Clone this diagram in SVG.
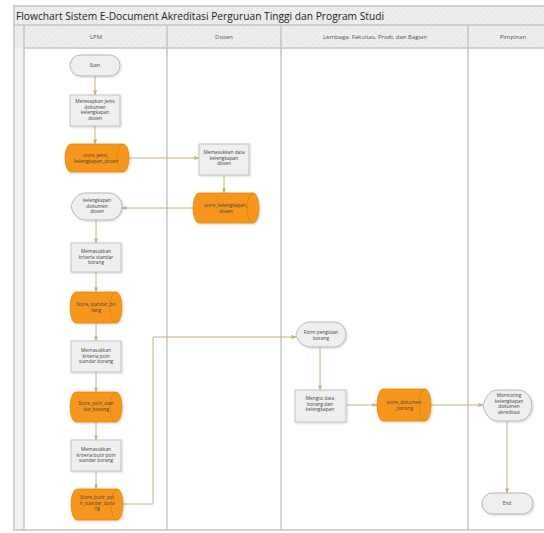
<svg xmlns="http://www.w3.org/2000/svg" width="544" height="533" viewBox="0 0 544 533">
<defs>
<pattern id="hatch" width="4" height="4" patternUnits="userSpaceOnUse" patternTransform="rotate(45)">
<rect width="4" height="4" fill="#eeeeee"/>
<line x1="0" y1="0" x2="0" y2="4" stroke="#e4e4e4" stroke-width="1.5"/>
</pattern>
<marker id="arr" viewBox="0 0 6 6" refX="5.5" refY="3" markerWidth="5" markerHeight="5" orient="auto">
<path d="M0,0.5 L6,3 L0,5.5 Z" fill="#c9b27a"/>
</marker>
<filter id="sh" x="-20%" y="-20%" width="150%" height="150%">
<feDropShadow dx="1" dy="1" stdDeviation="0.8" flood-color="#000" flood-opacity="0.18"/>
</filter>
</defs>
<style>
.lane{fill:none;stroke:#c4c4c4;stroke-width:1.5}
.title{font-family:"Open Sans","DejaVu Sans",sans-serif;font-size:10.5px;fill:#222}
.hdr{font-family:"Open Sans","DejaVu Sans",sans-serif;font-size:6px;fill:#555;text-anchor:middle}
.t{font-family:"Open Sans","DejaVu Sans",sans-serif;font-size:4.8px;fill:#444;text-anchor:middle}
.proc{fill:#efefef;stroke:#b8b8b8;stroke-width:0.8;filter:url(#sh)}
.term{fill:#efefef;stroke:#a8a8a8;stroke-width:0.8;filter:url(#sh)}
.disp{fill:#efefef;stroke:#a8a8a8;stroke-width:0.8;filter:url(#sh)}
.store{fill:#f7961f;stroke:#e3890f;stroke-width:0.8;filter:url(#sh)}
.inner{fill:none;stroke:#d27d0c;stroke-width:0.6}
.c{fill:none;stroke:#c9b27a;stroke-width:1;marker-end:url(#arr)}
</style>
<rect width="544" height="533" fill="#ffffff"/>
<!-- frame -->
<g id="pool">
<rect x="14" y="6" width="540" height="19" fill="url(#hatch)"/>
<rect x="14" y="25" width="540" height="23" fill="url(#hatch)"/>
<rect x="14" y="48" width="10" height="482" fill="#f3f3f3"/>
<rect class="lane" x="14" y="6" width="540" height="524"/>
<line class="lane" x1="14" y1="25" x2="544" y2="25"/>
<line class="lane" x1="24" y1="48" x2="544" y2="48"/>
<line class="lane" x1="24" y1="25" x2="24" y2="530"/>
<line class="lane" x1="167" y1="25" x2="167" y2="530"/>
<line class="lane" x1="281" y1="25" x2="281" y2="530"/>
<line class="lane" x1="468" y1="25" x2="468" y2="530"/>
<text class="title" x="16" y="20" textLength="368" lengthAdjust="spacingAndGlyphs">Flowchart Sistem E-Document Akreditasi Perguruan Tinggi dan Program Studi</text>
<text class="hdr" x="96" y="39">LPM</text>
<text class="hdr" x="224" y="39">Dosen</text>
<text class="hdr" x="375" y="39">Lembaga, Fakultas, Prodi, dan Bagian</text>
<text class="hdr" x="513" y="39">Pimpinan</text>
</g>
<!-- connectors -->
<g id="connectors">
<path class="c" d="M95,76 V95"/>
<path class="c" d="M95,126 V144"/>
<path class="c" d="M129,158 H199"/>
<path class="c" d="M224,175 V193"/>
<path class="c" d="M193,208 H122"/>
<path class="c" d="M96,220 V243"/>
<path class="c" d="M96,272 V292"/>
<path class="c" d="M96,323 V341"/>
<path class="c" d="M96,372 V392"/>
<path class="c" d="M96,422 V440"/>
<path class="c" d="M96,471 V489"/>
<path class="c" d="M123,504 H153 V337 H296"/>
<path class="c" d="M320,347 V390"/>
<path class="c" d="M346,405 H377"/>
<path class="c" d="M431,405 H483"/>
<path class="c" d="M507,421 V493"/>
</g>
<!-- nodes -->
<g id="start">
<rect class="term" x="70" y="55" width="50" height="21" rx="10.5"/>
<text class="t" x="95" y="67">Start</text>
</g>
<g id="menetapkan">
<rect class="proc" x="70" y="95" width="50" height="31"/>
<text class="t" x="95" y="103"><tspan x="95">Menetapkan jenis</tspan><tspan x="95" dy="5.5">dokumen</tspan><tspan x="95" dy="5.5">kelengkapan</tspan><tspan x="95" dy="5.5">dosen</tspan></text>
</g>
<g id="store_jenis">
<path class="store" d="M71,144 H123 A6,14 0 0 1 123,172 H71 A6,14 0 0 1 71,144 Z"/>
<path class="inner" d="M123,144 A6,14 0 0 0 123,172"/>
<text class="t" x="96" y="157"><tspan x="96">store_jenis_</tspan><tspan x="96" dy="5.5">kelengkapan_dosen</tspan></text>
</g>
<g id="memasukkan_data">
<rect class="proc" x="199" y="144" width="50" height="31"/>
<text class="t" x="224" y="154"><tspan x="224">Memasukkan data</tspan><tspan x="224" dy="5.5">kelengkapan</tspan><tspan x="224" dy="5.5">dosen</tspan></text>
</g>
<g id="store_kelengkapan">
<path class="store" d="M199,193 H253 A6,15 0 0 1 253,223 H199 A6,15 0 0 1 199,193 Z"/>
<path class="inner" d="M253,193 A6,15 0 0 0 253,223"/>
<text class="t" x="226" y="207"><tspan x="226">store_kelengkapan_</tspan><tspan x="226" dy="5.5">dosen</tspan></text>
</g>
<g id="kelengkapan_dokumen">
<path class="disp" d="M71,206.5 C73,199 78,193 86,193 H109 A13,13.5 0 0 1 109,220 H86 C78,220 73,214 71,206.5 Z"/>
<text class="t" x="97" y="202"><tspan x="97">kelengkapan</tspan><tspan x="97" dy="5.5">dokumen</tspan><tspan x="97" dy="5.5">dosen</tspan></text>
</g>
<g id="kriteria_standar">
<rect class="proc" x="71" y="243" width="50" height="29"/>
<text class="t" x="96" y="253"><tspan x="96">Memasukkan</tspan><tspan x="96" dy="5.5">kriteria standar</tspan><tspan x="96" dy="5.5">borang</tspan></text>
</g>
<g id="store_standar">
<path class="store" d="M76,292 H116 A6,15.5 0 0 1 116,323 H76 A6,15.5 0 0 1 76,292 Z"/>
<path class="inner" d="M116,292 A6,15.5 0 0 0 116,323"/>
<text class="t" x="96" y="306"><tspan x="96">Store_standar_bo</tspan><tspan x="96" dy="5.5">rang</tspan></text>
</g>
<g id="kriteria_poin">
<rect class="proc" x="71" y="341" width="50" height="31"/>
<text class="t" x="96" y="352"><tspan x="96">Memasukkan</tspan><tspan x="96" dy="5.5">kriteria poin</tspan><tspan x="96" dy="5.5">standar borang</tspan></text>
</g>
<g id="store_poin">
<path class="store" d="M76,392 H116 A6,15 0 0 1 116,422 H76 A6,15 0 0 1 76,392 Z"/>
<path class="inner" d="M116,392 A6,15 0 0 0 116,422"/>
<text class="t" x="96" y="405"><tspan x="96">Store_poin_stan</tspan><tspan x="96" dy="5.5">dar_borang</tspan></text>
</g>
<g id="kriteria_butir">
<rect class="proc" x="71" y="440" width="50" height="31"/>
<text class="t" x="96" y="451"><tspan x="96">Memasukkan</tspan><tspan x="96" dy="5.5">kriteria butir poin</tspan><tspan x="96" dy="5.5">standar borang</tspan></text>
</g>
<g id="store_butir">
<path class="store" d="M77,489 H117 A6,15.5 0 0 1 117,520 H77 A6,15.5 0 0 1 77,489 Z"/>
<path class="inner" d="M117,489 A6,15.5 0 0 0 117,520"/>
<text class="t" x="97" y="499"><tspan x="97">Store_butir_poi</tspan><tspan x="97" dy="5.5">n_standar_bora</tspan><tspan x="97" dy="5.5">ng</tspan></text>
</g>
<g id="form_pengisian">
<path class="disp" d="M296,334.5 C298,327 303,322 311,322 H334 A12,12.5 0 0 1 334,347 H311 C303,347 298,342 296,334.5 Z"/>
<text class="t" x="321" y="334"><tspan x="321">Form pengisian</tspan><tspan x="321" dy="5.5">borang</tspan></text>
</g>
<g id="mengisi_data">
<rect class="proc" x="295" y="390" width="51" height="32"/>
<text class="t" x="320" y="400"><tspan x="320">Mengisi data</tspan><tspan x="320" dy="5.5">borang dan</tspan><tspan x="320" dy="5.5">kelengkapan</tspan></text>
</g>
<g id="store_dokumen">
<path class="store" d="M383,389 H425 A6,16 0 0 1 425,421 H383 A6,16 0 0 1 383,389 Z"/>
<path class="inner" d="M425,389 A6,16 0 0 0 425,421"/>
<text class="t" x="404" y="404"><tspan x="404">store_dokumen</tspan><tspan x="404" dy="5.5">_borang</tspan></text>
</g>
<g id="monitoring">
<path class="disp" d="M483,405.5 C485,397 490,390 498,390 H518 A14,15.5 0 0 1 518,421 H498 C490,421 485,414 483,405.5 Z"/>
<text class="t" x="509" y="397"><tspan x="509">Monitoring</tspan><tspan x="509" dy="5.5">kelengkapan</tspan><tspan x="509" dy="5.5">dokumen</tspan><tspan x="509" dy="5.5">akreditasi</tspan></text>
</g>
<g id="end">
<rect class="term" x="482" y="493" width="51" height="21" rx="10.5"/>
<text class="t" x="507" y="505">End</text>
</g>
</svg>
